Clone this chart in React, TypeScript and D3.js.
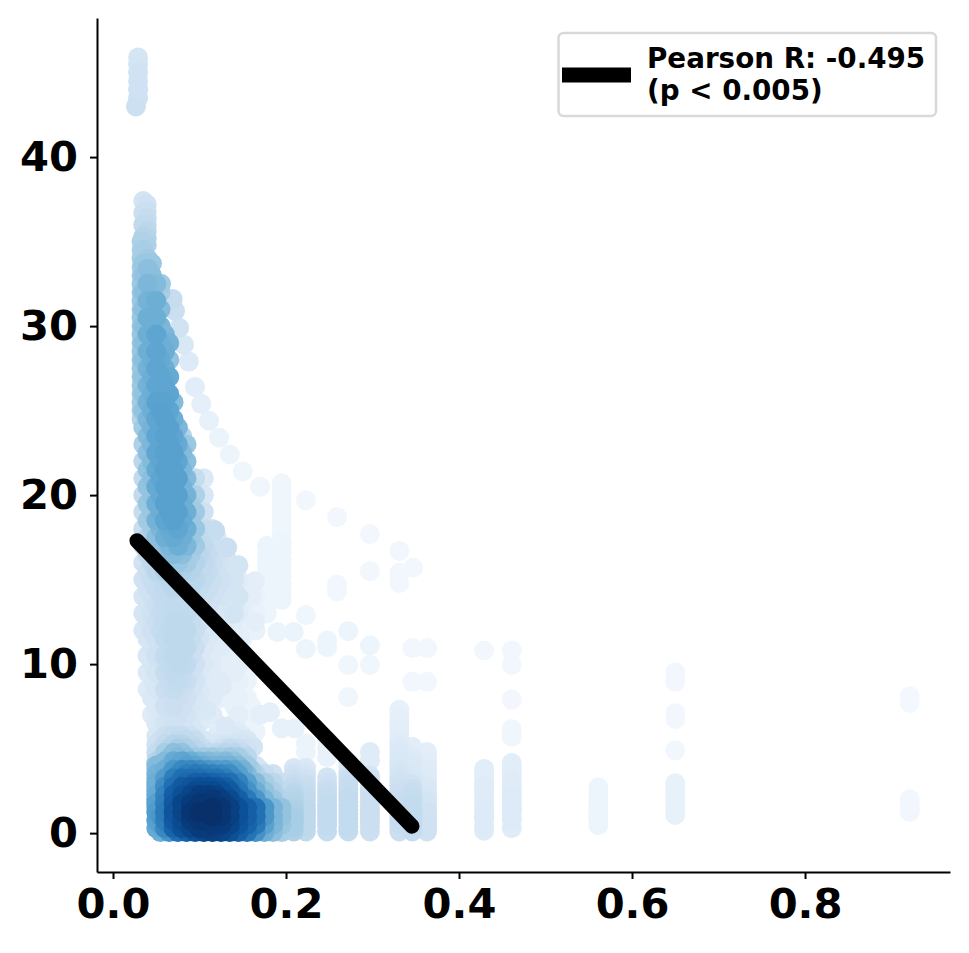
import { useEffect, useRef } from "react";
import * as d3 from "d3";

const xTicks = [0, 0.2, 0.4, 0.6, 0.8];
const yTicks = [0, 10, 20, 30, 40];

const legendLines = ["Pearson R: -0.495", "(p < 0.005)"];

const fitX = [0.0277, 0.3457];
const fitY = [17.3, 0.41];

// dense part of the cloud, density in percent per x / y position, 0 = no point
const gridX = [0.035, 0.045, 0.055, 0.065, 0.075, 0.085, 0.095, 0.105, 0.115, 0.125, 0.135, 0.145, 0.155, 0.165, 0.175, 0.185, 0.195];
const gridY = [37.4, 36.7, 36, 35.3, 34.5, 33.7, 33, 32, 31, 30, 29, 28, 27, 26, 25, 24, 23, 22, 21, 20, 19, 18, 17, 16, 15, 14, 13, 12, 11, 10, 9, 8, 7, 6, 5.5, 5, 4.5, 4, 3.5, 3, 2.5, 2, 1.5, 1, 0.5, 0.06];
const gridD = [
  [18],
  [22],
  [26],
  [30],
  [34],
  [38, 38],
  [40, 42],
  [42, 44, 34],
  [42, 46, 44],
  [42, 48, 46],
  [42, 48, 50, 48],
  [42, 50, 52, 40],
  [40, 50, 54, 52],
  [40, 50, 54, 54],
  [40, 50, 56, 54],
  [36, 48, 54, 56, 46],
  [32, 46, 54, 56, 52, 38],
  [28, 44, 54, 56, 54, 42],
  [26, 42, 54, 56, 56, 44, 24, 14],
  [26, 40, 52, 56, 56, 48, 32, 16],
  [24, 38, 50, 56, 56, 50, 36, 20],
  [23, 34, 46, 52, 54, 50, 38, 24, 18],
  [21, 30, 40, 46, 50, 46, 36, 26, 22, 16],
  [19, 26, 32, 36, 38, 35, 30, 26, 22, 18, 16],
  [19, 23, 25, 28, 28, 28, 28, 25, 22, 20, 18, 12],
  [17, 20, 24, 25, 25, 25, 24, 22, 20, 18, 16, 14, 0, 7],
  [17, 20, 24, 25, 26, 26, 23, 20, 16, 14, 14, 12, 8, 7],
  [16, 20, 24, 26, 27, 27, 22, 16, 14, 12, 10, 8, 6, 7],
  [0, 17, 20, 25, 27, 27, 22, 14, 12, 12, 10, 10],
  [0, 16, 18, 25, 27, 26, 20, 14, 12, 0, 10, 10, 6],
  [0, 14, 16, 23, 25, 23, 18, 12, 12, 12, 8, 8, 6],
  [0, 14, 14, 20, 22, 20, 16, 12, 12, 8, 0, 8, 6],
  [0, 12, 14, 18, 20, 18, 14, 12, 12, 0, 0, 10, 6, 6],
  [0, 0, 14, 16, 18, 18, 16, 0, 0, 10, 0, 12, 0, 6],
  [0, 0, 20, 24, 26, 26, 24, 16, 0, 14, 0, 16, 16],
  [0, 0, 22, 30, 34, 32, 28, 22, 14, 20, 24, 22, 20],
  [0, 0, 26, 38, 44, 42, 36, 36, 36, 34, 36, 34, 28],
  [0, 0, 32, 46, 54, 56, 54, 50, 48, 48, 48, 44, 36, 18],
  [0, 0, 36, 52, 64, 70, 72, 70, 68, 66, 64, 56, 44, 30, 24, 20],
  [0, 0, 40, 58, 72, 78, 82, 82, 80, 78, 76, 68, 56, 44, 34, 28, 22],
  [0, 0, 44, 62, 78, 84, 90, 90, 90, 88, 84, 74, 62, 50, 40, 32, 26],
  [0, 0, 50, 66, 82, 88, 92, 96, 97, 95, 90, 82, 72, 60, 46, 38, 30],
  [0, 0, 58, 70, 85, 88, 92, 97, 100, 98, 94, 88, 82, 75, 60, 47, 40],
  [0, 0, 60, 70, 85, 88, 92, 97, 100, 98, 94, 88, 82, 75, 60, 47, 40],
  [0, 0, 56, 68, 82, 85, 90, 95, 97, 96, 92, 86, 80, 72, 56, 46, 38],
  [0, 0, 50, 62, 76, 82, 88, 92, 94, 92, 88, 82, 74, 62, 50, 42, 34],
];

// same cloud, second set of positions lying between the ones above
const altX = [0.04, 0.05, 0.06, 0.07, 0.08, 0.09, 0.1, 0.11, 0.12, 0.13, 0.14, 0.15, 0.16, 0.17, 0.18, 0.19];
const altY = [34, 33.4, 32.5, 31.5, 30.5, 29.5, 28.5, 27.5, 26.5, 25.5, 24.5, 23.5, 22.5, 21.5, 20.5, 19.5, 18.5, 17.5, 16.5, 15.5, 14.5, 13.5, 12.5, 11.5, 10.5, 9.5, 8.5, 7.5, 6.5, 5.75, 5.25, 4.75, 4.25, 3.75, 3.25, 2.75, 2.25, 1.75, 1.25, 0.75, 0.3];
const altD = [
  [36],
  [42],
  [46, 44],
  [48, 50],
  [50, 50],
  [50, 54, 46],
  [50, 54, 50],
  [48, 54, 50],
  [48, 54, 54],
  [48, 55, 55, 44],
  [46, 54, 56, 50],
  [44, 54, 56, 54, 30],
  [42, 54, 56, 56, 44],
  [40, 52, 56, 56, 46],
  [40, 52, 56, 56, 48, 26],
  [38, 50, 56, 56, 50, 34, 16],
  [36, 48, 54, 56, 52, 38, 20],
  [30, 42, 50, 52, 50, 38, 26, 18, 14],
  [26, 36, 42, 44, 42, 34, 28, 24, 20, 14],
  [22, 28, 32, 34, 32, 30, 26, 24, 20, 18, 14],
  [20, 24, 26, 28, 28, 28, 24, 22, 20, 18, 14, 10],
  [18, 22, 25, 26, 26, 25, 22, 20, 16, 16, 14, 10, 7],
  [18, 22, 25, 27, 27, 24, 20, 16, 14, 12, 10, 7, 6],
  [17, 20, 25, 27, 27, 24, 18, 14, 12, 12, 10, 6],
  [16, 20, 25, 27, 27, 22, 14, 12, 10, 10, 10, 6],
  [14, 18, 24, 26, 24, 20, 14, 12, 10, 10, 10, 6],
  [12, 16, 22, 24, 22, 18, 14, 12, 10, 0, 8, 6],
  [0, 14, 20, 22, 20, 16, 12, 12, 0, 0, 8, 6, 6],
  [0, 14, 18, 20, 18, 16, 12, 0, 10, 0, 10, 6, 6],
  [0, 16, 22, 24, 24, 20, 0, 0, 12, 0, 14, 12],
  [0, 20, 26, 30, 30, 26, 18, 14, 16, 18, 18, 18],
  [0, 24, 34, 42, 40, 32, 28, 26, 26, 28, 28, 24],
  [0, 30, 44, 52, 54, 50, 46, 44, 42, 44, 40, 32],
  [0, 36, 50, 60, 66, 66, 64, 60, 58, 58, 54, 48, 34, 18],
  [0, 42, 58, 70, 76, 76, 76, 74, 74, 70, 62, 48, 32, 24],
  [0, 48, 64, 76, 84, 86, 88, 88, 86, 82, 72, 58, 42, 34, 26],
  [0, 52, 68, 82, 88, 92, 95, 95, 93, 88, 78, 64, 48, 38, 30],
  [0, 56, 70, 84, 92, 96, 98, 98, 96, 92, 84, 70, 54, 44, 34],
  [0, 58, 72, 86, 92, 98, 100, 100, 97, 93, 86, 74, 56, 46, 36],
  [0, 56, 70, 84, 90, 96, 98, 98, 96, 91, 84, 72, 54, 44, 36],
  [0, 52, 66, 80, 88, 92, 96, 96, 93, 88, 80, 68, 52, 42, 34],
];

// vertical runs of points on the sparse right side
const stripX = [0.033, 0.039, 0.05, 0.178, 0.195, 0.209, 0.223, 0.2475, 0.272, 0.297, 0.331, 0.346, 0.363, 0.429, 0.461, 0.561, 0.65, 0.921];
const stripY = [
  [35, 34.5, 34, 33.5, 33, 32.5, 32, 31.5, 31, 30.5, 30, 29.5, 29, 28.5, 28, 27.5, 27, 26.5, 26, 25.5, 25, 24.5],
  [37.2, 36.8, 36.4, 36, 35.6, 35.2, 34.8],
  [4, 3.5, 3, 2.5, 2, 1.5],
  [17, 16.5, 16, 15.5, 15, 14.5, 14, 13.5, 13],
  [20.7, 20.2, 19.7, 19.2, 18.7, 18.2, 17.7, 17.2, 16.7, 16.2, 15.7, 15.2, 14.7, 14.2, 13.8],
  [3.85, 3.6, 3.4, 3.15, 2.9, 2.65, 2.4, 2.15, 1.9, 1.65, 1.4, 1.15, 0.9, 0.65, 0.4, 0.1],
  [5.3, 4.8, 3.85, 3.6, 3.4, 3.15, 2.9, 2.65, 2.4, 2.15, 1.9, 1.65, 1.4, 1.15, 0.9, 0.65, 0.4, 0.1],
  [5.5, 5, 4.5, 3.3, 3, 2.7, 2.45, 2.2, 1.95, 1.7, 1.45, 1.2, 0.95, 0.7, 0.45, 0.1],
  [4.2, 3.9, 3.6, 3.35, 3.1, 2.85, 2.6, 2.35, 2.1, 1.85, 1.6, 1.35, 1.1, 0.85, 0.6, 0.35, 0.1],
  [4.8, 4.3, 3.4, 3.15, 2.9, 2.65, 2.4, 2.15, 1.9, 1.65, 1.4, 1.15, 0.9, 0.65, 0.4, 0.1],
  [7.3, 7.05, 6.8, 6.55, 6.3, 6.05, 5.8, 5.55, 5.3, 5.05, 4.8, 4.55, 4.3, 4.05, 3.8, 3.55, 3.3, 3.05, 2.8, 2.55, 2.3, 2.05, 1.8, 1.55, 1.3, 1.05, 0.8, 0.55, 0.3, 0.1],
  [5.1, 4.85, 4.6, 4.35, 4.1, 3.85, 3.6, 3.35, 3.1, 2.9, 2.65, 2.4, 2.2, 1.95, 1.7, 1.45, 1.2, 0.95, 0.7, 0.45, 0.1],
  [4.8, 4.55, 4.3, 4.05, 3.8, 3.55, 3.3, 3.05, 2.8, 2.55, 2.3, 2.05, 1.8, 1.55, 1.3, 1.05, 0.8, 0.55, 0.3, 0.1],
  [3.8, 3.5, 3.3, 3, 2.8, 2.5, 2.3, 2, 1.8, 1.5, 1.3, 1, 0.8, 0.4, 0.14],
  [4.15, 3.9, 3.7, 3.4, 3.2, 2.9, 2.7, 2.4, 2.2, 1.9, 1.7, 1.4, 1.2, 0.8, 0.3],
  [2.7, 2.4, 2.2, 1.9, 1.7, 1.4, 1.2, 1, 0.8, 0.47],
  [2.95, 2.7, 2.5, 2.2, 2, 1.7, 1.5, 1.3, 1.07],
  [2, 1.8, 1.6, 1.4, 1.26],
];
const stripD = [
  [32, 33, 34, 35, 36, 37, 38, 38, 38, 38, 38, 38, 38, 38, 38, 38, 38, 37, 36, 35, 34, 30],
  [20, 22, 24, 26, 28, 30, 32],
  [44, 48, 50, 50, 50, 48],
  [5, 5, 5, 5, 5, 5, 5, 5, 5],
  [4, 4, 4, 4, 4, 4, 4, 5, 5, 5, 5, 5, 5, 5, 5],
  [16, 18, 20, 22, 24, 26, 28, 29, 30, 31, 32, 33, 34, 34, 34, 32],
  [6, 6, 14, 16, 18, 20, 22, 23, 24, 25, 26, 26, 27, 27, 27, 27, 27, 26],
  [7, 7, 7, 18, 20, 22, 23, 24, 24, 25, 25, 25, 25, 25, 25, 24],
  [12, 15, 18, 20, 22, 23, 24, 24, 25, 25, 25, 25, 25, 25, 25, 25, 24],
  [12, 12, 18, 19, 20, 20, 21, 21, 22, 22, 22, 22, 22, 22, 22, 21],
  [8, 8, 9, 9, 10, 10, 11, 11, 12, 13, 14, 14, 15, 15, 16, 17, 18, 19, 20, 21, 22, 22, 23, 23, 23, 23, 23, 23, 22, 22],
  [11, 11, 12, 13, 14, 14, 15, 15, 16, 19, 22, 23, 24, 24, 25, 25, 25, 25, 25, 25, 24],
  [10, 10, 11, 11, 12, 12, 13, 13, 14, 15, 16, 17, 18, 18, 19, 19, 20, 20, 20, 20],
  [11, 11, 11, 11, 12, 12, 12, 12, 12, 12, 13, 13, 13, 13, 12],
  [11, 11, 11, 11, 12, 12, 12, 12, 13, 13, 13, 13, 13, 13, 12],
  [5, 5, 5, 5, 5, 5, 5, 5, 5, 5],
  [8, 8, 8, 8, 8, 8, 8, 8, 8],
  [3, 3, 3, 3, 3],
];

// single pale points along the upper edge and around the fit line
const looseX = [0.0265, 0.029, 0.029, 0.029, 0.029, 0.029, 0.029, 0.0555, 0.069, 0.0717, 0.0765, 0.082, 0.0877, 0.0947, 0.102, 0.111, 0.1225, 0.135, 0.15, 0.17, 0.223, 0.259, 0.297, 0.331, 0.297, 0.347, 0.331, 0.331, 0.259, 0.259, 0.223, 0.272, 0.297, 0.2475, 0.2475, 0.223, 0.209, 0.19, 0.272, 0.297, 0.346, 0.363, 0.346, 0.363, 0.272, 0.429, 0.461, 0.461, 0.461, 0.461, 0.461, 0.65, 0.65, 0.65, 0.65, 0.65, 0.921, 0.921, 0.118, 0.132, 0.145, 0.14, 0.145, 0.14, 0.164, 0.16, 0.164, 0.126, 0.108, 0.1, 0.147, 0.13, 0.147, 0.162, 0.17, 0.1815, 0.195, 0.21, 0.223];
const looseY = [43, 43.5, 44, 44.5, 45, 45.5, 45.9, 32.5, 31.6, 30.9, 29.9, 28.9, 27.9, 26.4, 25.4, 24.4, 23.4, 22.4, 21.4, 20.5, 19.7, 18.7, 17.7, 16.7, 15.5, 15.7, 15.4, 14.8, 14.7, 14.3, 12.9, 11.95, 11.1, 11.4, 11, 10.9, 11.9, 11.9, 9.95, 9.95, 10.95, 10.95, 8.95, 8.95, 8.05, 10.8, 10.8, 9.95, 7.9, 6.15, 5.7, 9.5, 8.95, 7.1, 6.75, 4.9, 8.1, 7.7, 17.9, 16.9, 15.85, 15, 14, 13, 14.9, 14, 12.5, 8.7, 7.3, 8.2, 11.6, 6.3, 5.3, 5.1, 7, 7.15, 6.2, 6.2, 3.85];
const looseD = [21, 20, 20, 19, 19, 18, 17, 36, 24, 22, 19, 15, 13, 11, 9, 8, 6, 5, 4, 4, 3, 3, 3, 3, 3, 3, 3, 3, 3, 3, 4, 5, 5, 5, 5, 5, 6, 6, 4, 4, 3, 3, 3, 3, 4, 3, 3, 3, 3, 4, 4, 3, 3, 3, 3, 3, 2, 2, 24, 22, 18, 18, 18, 18, 10, 10, 10, 12, 15, 14, 10, 14, 18, 18, 9, 9, 8, 8, 12];

const points = [
  ...gridD.flatMap((row, r) => row.map((d, c) => ({ x: gridX[c], y: gridY[r], d }))),
  ...altD.flatMap((row, r) => row.map((d, c) => ({ x: altX[c], y: altY[r], d }))),
  ...stripX.flatMap((x, c) => stripY[c].map((y, r) => ({ x, y, d: stripD[c][r] }))),
  ...looseX.map((x, i) => ({ x, y: looseY[i], d: looseD[i] })),
]
  .filter((p) => p.d > 0)
  .sort((a, b) => a.d - b.d);

export default function App() {
  const ref = useRef<SVGSVGElement>(null);

  useEffect(() => {
    const width = 969;
    const height = 953;
    const marginTop = 18;
    const marginRight = 19;
    const marginBottom = 81;
    const marginLeft = 97;
    const font = "'DejaVu Sans'";

    const svg = d3.select(ref.current);
    svg.selectAll("*").remove();
    svg.attr("viewBox", [0, 0, width, height].join(" "));

    const x = d3.scaleLinear([-0.0185, 0.9676], [marginLeft, width - marginRight]);
    const y = d3.scaleLinear([-2.3, 48.23], [height - marginBottom, marginTop]);

    svg.append("g")
      .selectAll("circle")
      .data(points)
      .join("circle")
      .attr("cx", (d) => x(d.x))
      .attr("cy", (d) => y(d.y))
      .attr("r", 10)
      .attr("fill", (d) => d3.interpolateBlues(d.d / 100));

    const line = d3.line<number>()
      .x((d) => x(d))
      .y((_, i) => y(fitY[i]));

    svg.append("path")
      .attr("d", line(fitX))
      .attr("fill", "none")
      .attr("stroke", "#000")
      .attr("stroke-width", 15)
      .attr("stroke-linecap", "round");

    const styleAxis = (g: any) => {
      g.select(".domain").attr("stroke-width", 2);
      g.selectAll(".tick line").attr("stroke-width", 2);
      g.selectAll("text")
        .attr("font-family", font)
        .attr("font-weight", "bold")
        .attr("font-size", 41.67);
    };

    svg.append("g")
      .attr("transform", `translate(0,${height - marginBottom})`)
      .call(d3.axisBottom(x).tickValues(xTicks).tickFormat(d3.format(".1f")).tickSize(7).tickSizeOuter(0).tickPadding(9))
      .call(styleAxis);

    svg.append("g")
      .attr("transform", `translate(${marginLeft},0)`)
      .call(d3.axisLeft(y).tickValues(yTicks).tickFormat(d3.format("d")).tickSize(7).tickSizeOuter(0).tickPadding(12))
      .call(styleAxis);

    const legend = svg.append("g");
    legend.append("rect")
      .attr("x", 558.5)
      .attr("y", 33)
      .attr("width", 377.5)
      .attr("height", 83)
      .attr("rx", 5)
      .attr("fill", "#fff")
      .attr("stroke", "#d9d9d9")
      .attr("stroke-width", 2.5);
    legend.append("line")
      .attr("x1", 562)
      .attr("x2", 631)
      .attr("y1", 75)
      .attr("y2", 75)
      .attr("stroke", "#000")
      .attr("stroke-width", 15);
    legend.selectAll("text")
      .data(legendLines)
      .join("text")
      .attr("x", 647)
      .attr("y", (_, i) => 68 + i * 32)
      .attr("font-family", font)
      .attr("font-weight", "bold")
      .attr("font-size", 27.78)
      .text((d) => d);
  }, []);

  return <svg ref={ref} width={969} height={953} style={{ position: "absolute", left: 0, top: 0, display: "block" }} />;
}
